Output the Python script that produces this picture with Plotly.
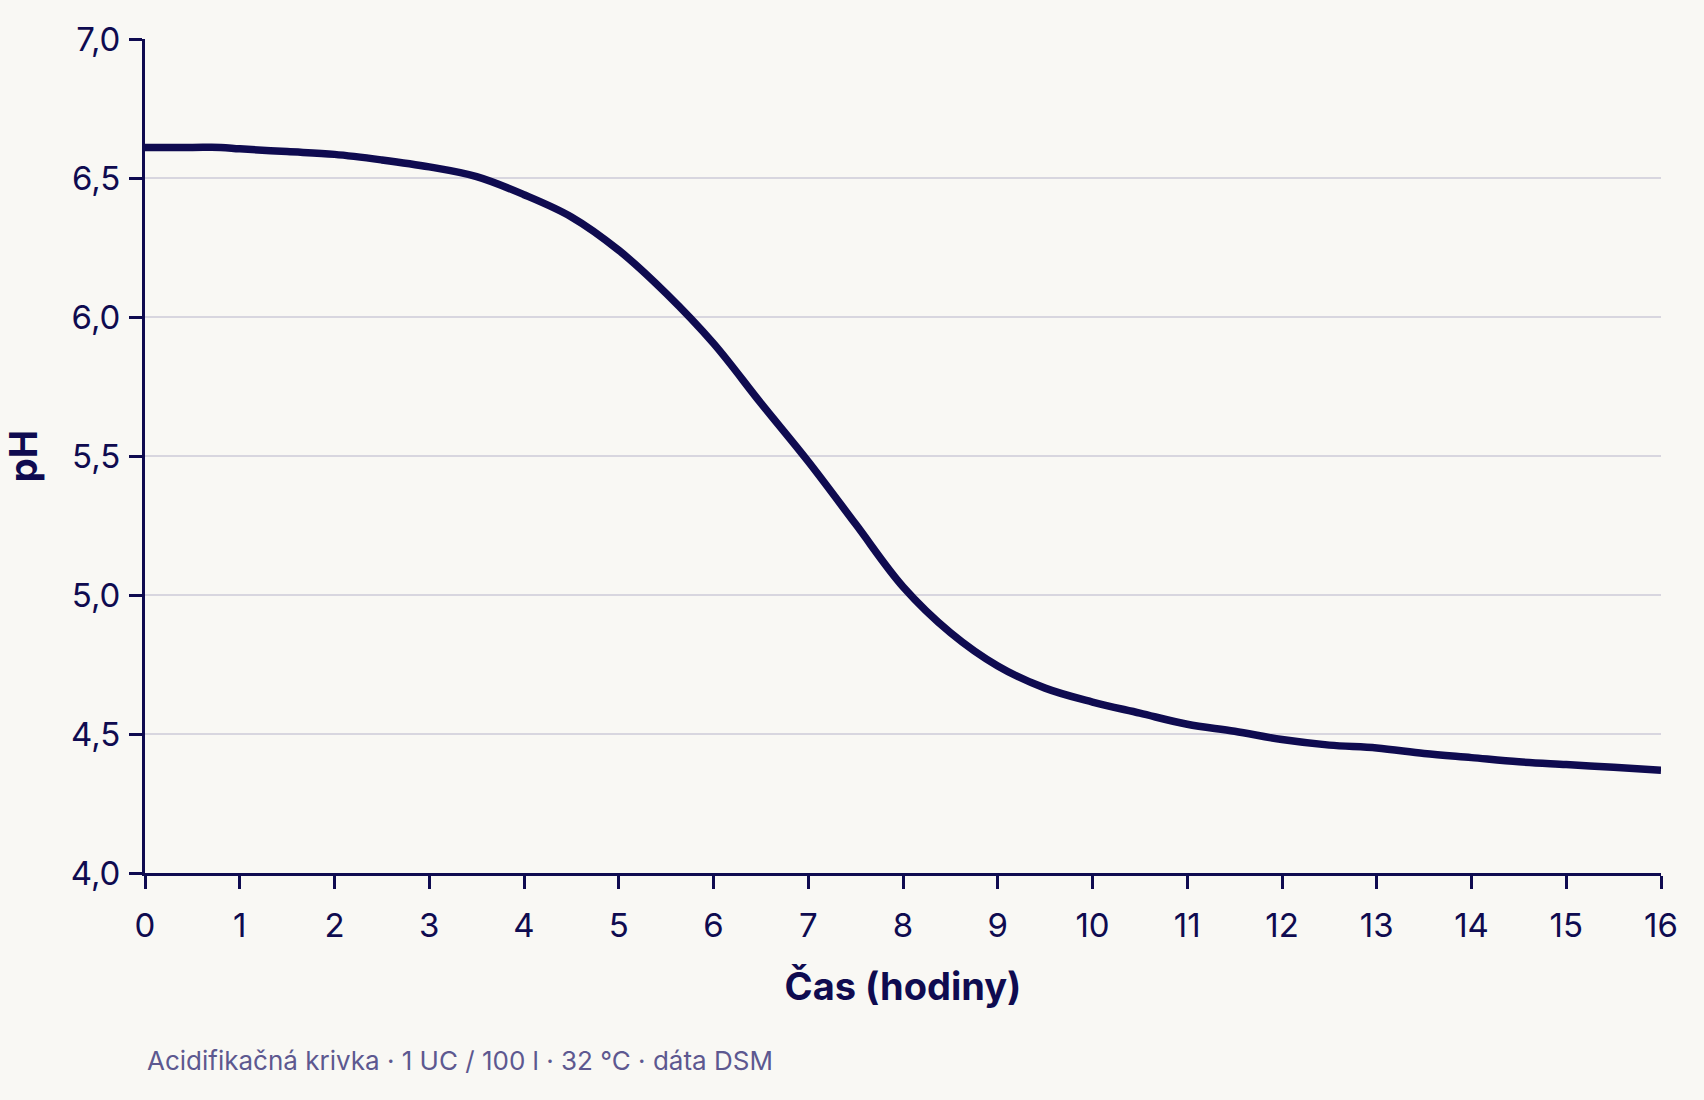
import plotly.graph_objects as go

hours = [0, 0.5, 0.8, 1.0, 1.5, 2.0, 2.5, 3.0, 3.5, 4.0, 4.5, 5.0, 5.5, 6.0, 6.5,
         7.0, 7.5, 8.0, 8.5, 9.0, 9.5, 10.0, 10.5, 11.0, 11.5, 12.0, 12.5, 13.0,
         13.5, 14.0, 14.5, 15.0, 15.5, 16.0]
ph = [6.61, 6.61, 6.61, 6.605, 6.595, 6.585, 6.565, 6.54, 6.505, 6.44, 6.36, 6.24,
      6.085, 5.905, 5.69, 5.48, 5.255, 5.03, 4.865, 4.745, 4.665, 4.615, 4.575, 4.535,
      4.51, 4.48, 4.46, 4.45, 4.43, 4.415, 4.40, 4.39, 4.38, 4.37]

x_ticks = list(range(0, 17))
y_ticks = [4.0, 4.5, 5.0, 5.5, 6.0, 6.5, 7.0]
y_labels = ["4,0", "4,5", "5,0", "5,5", "6,0", "6,5", "7,0"]

navy = "#0f0b50"
bg = "#f9f8f4"
font = "Inter, 'Noto Sans', sans-serif"

fig = go.Figure()
fig.add_trace(go.Scatter(x=hours, y=ph, mode="lines",
                         line=dict(color=navy, width=7.5, shape="spline", smoothing=1.0),
                         hoverinfo="skip", showlegend=False))

fig.update_layout(
    width=1704, height=1100,
    paper_bgcolor=bg, plot_bgcolor=bg,
    margin=dict(l=145, r=43, t=39, b=227),
    font=dict(family=font, color=navy, size=33),
    showlegend=False,
)
fig.update_xaxes(
    range=[0, 16], tickvals=x_ticks, ticktext=[str(v) for v in x_ticks],
    showgrid=False, zeroline=False,
    showline=True, linecolor=navy, linewidth=3,
    ticks="outside", ticklen=13, tickwidth=3, tickcolor=navy,
    ticklabelstandoff=8,
    tickfont=dict(family=font, size=33, color=navy),
    title=dict(text="<b>Čas (hodiny)</b>", font=dict(family=font, size=38, color=navy), standoff=30),
)
fig.update_yaxes(
    range=[4.0, 7.0], tickvals=y_ticks, ticktext=y_labels,
    showgrid=True, gridcolor="#d8d6df", gridwidth=2, zeroline=False,
    showline=True, linecolor=navy, linewidth=3,
    ticks="outside", ticklen=13, tickwidth=3, tickcolor=navy,
    ticklabelstandoff=2,
    tickfont=dict(family=font, size=33, color=navy),
    title=dict(text="<b>pH</b>", font=dict(family=font, size=38, color=navy), standoff=26),
)
fig.add_annotation(
    text="Acidifikačná krivka · 1 UC / 100 l · 32 °C · dáta DSM",
    xref="paper", yref="paper", x=0, y=-0.225, xanchor="left", yanchor="middle",
    showarrow=False, font=dict(family=font, size=26, color="#5d5890"),
)
fig.write_html("out.html")
